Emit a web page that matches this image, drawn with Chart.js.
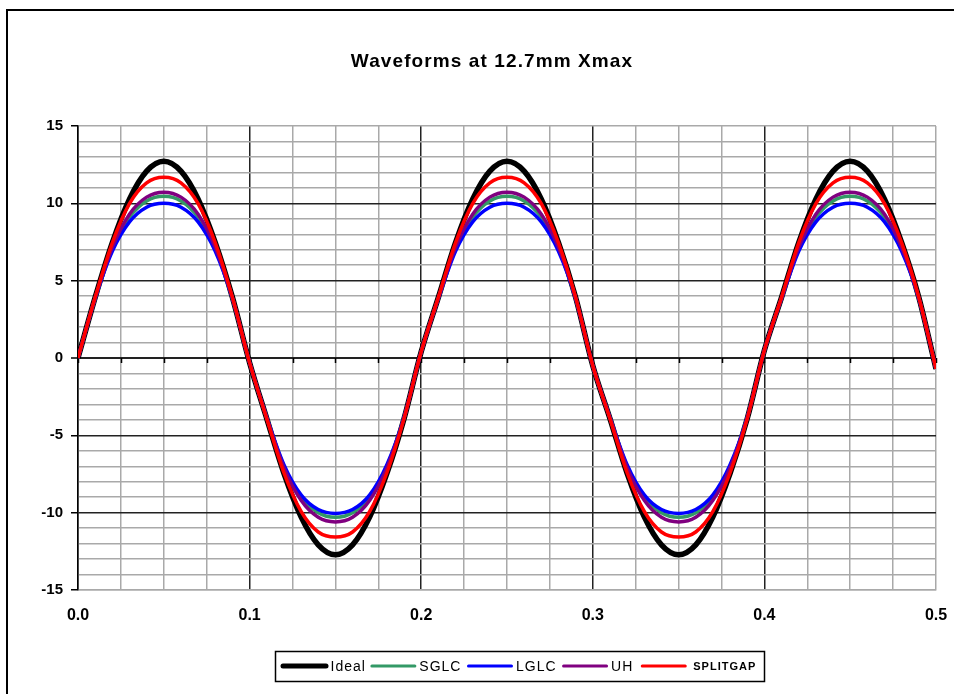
<!DOCTYPE html>
<html>
<head>
<meta charset="utf-8">
<title>Waveforms at 12.7mm Xmax</title>
<script src="https://cdn.jsdelivr.net/npm/chart.js@4/dist/chart.umd.min.js"></script>
<style>
	html, body { margin: 0; padding: 0; background: #fff; overflow: hidden; }
	#wrap { width: 954px; height: 694px; }
</style>
</head>
<body>
<div id="wrap"><canvas id="waveChart" width="954" height="694"></canvas></div>
<script>
// chart data (x in seconds, y in mm)
var titleText = 'Waveforms at 12.7mm Xmax';
var seriesNames = ['Ideal', 'SGLC', 'LGLC', 'UH', 'SPLITGAP'];
var seriesColors = ['#000000', '#339966', '#0000ff', '#800080', '#ff0000'];

var xs = [0.00, 0.01, 0.02, 0.03, 0.04, 0.05, 0.06, 0.07, 0.08, 0.09,
	0.10, 0.11, 0.12, 0.13, 0.14, 0.15, 0.16, 0.17, 0.18, 0.19,
	0.20, 0.21, 0.22, 0.23, 0.24, 0.25, 0.26, 0.27, 0.28, 0.29,
	0.30, 0.31, 0.32, 0.33, 0.34, 0.35, 0.36, 0.37, 0.38, 0.39,
	0.40, 0.41, 0.42, 0.43, 0.44, 0.45, 0.46, 0.47, 0.48, 0.49, 0.50];

var ideal = [0, 3.92, 7.46, 10.27, 12.08, 12.72, 12.08, 10.27, 7.46, 3.92,
	-0.3, -3.92, -7.46, -10.27, -12.08, -12.72, -12.08, -10.27, -7.46, -3.92,
	0.4, 3.92, 7.46, 10.27, 12.08, 12.72, 12.08, 10.27, 7.46, 3.92,
	-0.5, -3.92, -7.46, -10.27, -12.08, -12.72, -12.08, -10.27, -7.46, -3.92,
	0.5, 3.92, 7.46, 10.27, 12.08, 12.72, 12.08, 10.27, 7.46, 3.92, -0.7];

var sglc = [0, 3.87, 7.05, 9.10, 10.15, 10.45, 10.15, 9.10, 7.05, 3.87,
	-0.3, -3.87, -7.00, -9.00, -10.00, -10.30, -10.00, -9.00, -7.00, -3.87,
	0.4, 3.87, 7.05, 9.10, 10.15, 10.45, 10.15, 9.10, 7.05, 3.87,
	-0.5, -3.87, -7.00, -9.00, -10.00, -10.30, -10.00, -9.00, -7.00, -3.87,
	0.5, 3.87, 7.05, 9.10, 10.15, 10.45, 10.15, 9.10, 7.05, 3.87, -0.7];

var lglc = [0, 3.85, 6.90, 8.80, 9.75, 10.00, 9.75, 8.80, 6.90, 3.85,
	-0.3, -3.85, -6.90, -8.85, -9.80, -10.05, -9.80, -8.85, -6.90, -3.85,
	0.4, 3.85, 6.90, 8.80, 9.75, 10.00, 9.75, 8.80, 6.90, 3.85,
	-0.5, -3.85, -6.90, -8.85, -9.80, -10.05, -9.80, -8.85, -6.90, -3.85,
	0.5, 3.85, 6.90, 8.80, 9.75, 10.00, 9.75, 8.80, 6.90, 3.85, -0.7];

var uh = [0, 3.88, 7.15, 9.30, 10.40, 10.72, 10.40, 9.30, 7.15, 3.88,
	-0.3, -3.88, -7.10, -9.20, -10.30, -10.60, -10.30, -9.20, -7.10, -3.88,
	0.4, 3.88, 7.15, 9.30, 10.40, 10.72, 10.40, 9.30, 7.15, 3.88,
	-0.5, -3.88, -7.10, -9.20, -10.30, -10.60, -10.30, -9.20, -7.10, -3.88,
	0.5, 3.88, 7.15, 9.30, 10.40, 10.72, 10.40, 9.30, 7.15, 3.88, -0.7];

var splitgap = [0, 3.92, 7.45, 9.98, 11.32, 11.68, 11.32, 9.98, 7.45, 3.92,
	-0.3, -3.92, -7.42, -9.92, -11.25, -11.58, -11.25, -9.92, -7.42, -3.92,
	0.4, 3.92, 7.45, 9.98, 11.32, 11.68, 11.32, 9.98, 7.45, 3.92,
	-0.5, -3.92, -7.42, -9.92, -11.25, -11.58, -11.25, -9.92, -7.42, -3.92,
	0.5, 3.92, 7.45, 9.98, 11.32, 11.68, 11.32, 9.98, 7.45, 3.92, -0.7];

var allSeries = [ideal, sglc, lglc, uh, splitgap];
var lineWidths = [5.5, 3.5, 3.5, 3.5, 3.5];

var fontFamily = '"Liberation Sans", Arial, sans-serif';
var minorGrid = '#a9a9a9';
var majorGrid = '#222222';

Chart.defaults.font.family = fontFamily;

// build the datasets from the arrays above
var datasets = allSeries.map(function(values, i) {
	return {
		label: seriesNames[i],
		data: xs.map(function(x, j) { return { x: x, y: values[j] }; }),
		borderColor: seriesColors[i],
		backgroundColor: seriesColors[i],
		borderWidth: lineWidths[i],
		pointRadius: 0,
		fill: false,
		cubicInterpolationMode: 'monotone',
		order: allSeries.length - 1 - i // later series on top, like excel
	};
});

// title, outer frame, ticks on the zero line and the boxed legend
var decorPlugin = {
	id: 'decor',
	beforeDraw: function(chart) {
		var ctx = chart.ctx;
		ctx.save();
		ctx.fillStyle = '#ffffff';
		ctx.fillRect(0, 0, chart.width, chart.height);
		ctx.strokeStyle = '#000';
		ctx.lineWidth = 2;
		ctx.beginPath();
		ctx.moveTo(7, chart.height);
		ctx.lineTo(7, 10);
		ctx.lineTo(chart.width, 10);
		ctx.stroke();

		ctx.fillStyle = '#000';
		ctx.font = 'bold 19px ' + fontFamily;
		ctx.letterSpacing = '1.1px';
		ctx.textAlign = 'center';
		ctx.textBaseline = 'alphabetic';
		ctx.fillText(titleText, 492, 67);
		ctx.restore();
	},
	beforeDatasetsDraw: function(chart) {
		var ctx = chart.ctx;
		var xScale = chart.scales.x;
		var y0 = chart.scales.y.getPixelForValue(0);
		ctx.save();
		ctx.strokeStyle = '#000';
		ctx.lineWidth = 1.5;
		ctx.beginPath();
		xScale.ticks.forEach(function(t) {
			var px = Math.round(xScale.getPixelForValue(t.value)) + 0.5;
			ctx.moveTo(px, y0);
			ctx.lineTo(px, y0 + 5);
		});
		ctx.stroke();
		ctx.restore();
	},
	afterDraw: function(chart) {
		var ctx = chart.ctx;
		var sampleW = 47, padL = 6, padR = 8, itemGap = 9;
		var boxTop = 651, boxH = 30, centerX = 520;
		var cy = boxTop + boxH / 2;
		ctx.save();
		// measure first so the box can be centred
		var items = chart.data.datasets.map(function(ds) {
			var special = ds.label === 'SPLITGAP';
			ctx.font = special ? 'bold 11px ' + fontFamily : '14px ' + fontFamily;
			ctx.letterSpacing = special ? '1px' : '0px';
			return {
				ds: ds,
				font: ctx.font,
				spacing: ctx.letterSpacing,
				gap: special ? 6 : 2.5,
				w: ctx.measureText(ds.label).width
			};
		});
		var total = padL + padR;
		items.forEach(function(it, i) {
			total += sampleW + it.gap + it.w + (i < items.length - 1 ? itemGap : 0);
		});
		var left = Math.round(centerX - total / 2);
		ctx.strokeStyle = '#000';
		ctx.lineWidth = 1.5;
		ctx.strokeRect(left + 0.5, boxTop + 0.5, Math.round(total), boxH);

		var x = left + padL;
		items.forEach(function(it) {
			ctx.strokeStyle = it.ds.borderColor;
			ctx.lineWidth = it.ds.label === 'Ideal' ? 5 : 3;
			ctx.lineCap = 'round';
			ctx.beginPath();
			ctx.moveTo(x + 2, cy);
			ctx.lineTo(x + sampleW - 2, cy);
			ctx.stroke();
			x += sampleW + it.gap;
			ctx.font = it.font;
			ctx.letterSpacing = it.spacing;
			ctx.fillStyle = '#000';
			ctx.textAlign = 'left';
			ctx.textBaseline = 'middle';
			ctx.fillText(it.ds.label, x, cy + 1);
			x += it.w + itemGap;
		});
		ctx.restore();
	}
};

var context = document.getElementById('waveChart').getContext('2d');

var myChart = new Chart(context, {
	type: 'line',
	data: { datasets: datasets },
	plugins: [decorPlugin],
	options: {
		responsive: false,
		animation: false,
		layout: {
			padding: { left: 0, top: 126, right: 18, bottom: 64 }
		},
		plugins: {
			legend: { display: false },
			title: { display: false },
			tooltip: { enabled: false }
		},
		scales: {
			x: {
				type: 'linear',
				min: 0,
				max: 0.5,
				afterFit: function(scale) {
					scale.height = 40;
					// let the last label hang over the right padding
					scale.paddingLeft = 0;
					scale.paddingRight = 0;
				},
				ticks: {
					stepSize: 0.025,
					autoSkip: false,
					maxRotation: 0,
					padding: 16,
					color: '#000',
					font: { size: 16, weight: 'bold' },
					callback: function(v) {
						var k = Math.round(v * 40);
						return k % 4 === 0 ? (k / 40).toFixed(1) : '';
					}
				},
				grid: {
					drawTicks: false,
					lineWidth: 1.5,
					color: function(c) {
						var k = Math.round(c.tick.value * 40);
						if (k === 20) return minorGrid;
						return k % 4 === 0 ? majorGrid : minorGrid;
					}
				},
				border: { color: minorGrid, width: 1.5 }
			},
			y: {
				min: -15,
				max: 15,
				afterFit: function(scale) { scale.width = 78; },
				ticks: {
					stepSize: 1,
					autoSkip: false,
					padding: 8,
					color: '#000',
					font: { size: 15, weight: 'bold' },
					callback: function(v) {
						return v % 5 === 0 ? String(v) : '';
					}
				},
				grid: {
					drawTicks: true,
					tickLength: 7,
					tickWidth: 1.5,
					tickColor: function(c) {
						return c.tick.value % 5 === 0 ? '#000' : 'rgba(0,0,0,0)';
					},
					lineWidth: function(c) {
						return c.tick.value === 0 ? 2 : 1.5;
					},
					color: function(c) {
						var v = c.tick.value;
						if (Math.abs(v) === 15) return minorGrid;
						return v % 5 === 0 ? majorGrid : minorGrid;
					}
				},
				border: { color: '#000', width: 1.5 }
			}
		}
	}
});
</script>
</body>
</html>
